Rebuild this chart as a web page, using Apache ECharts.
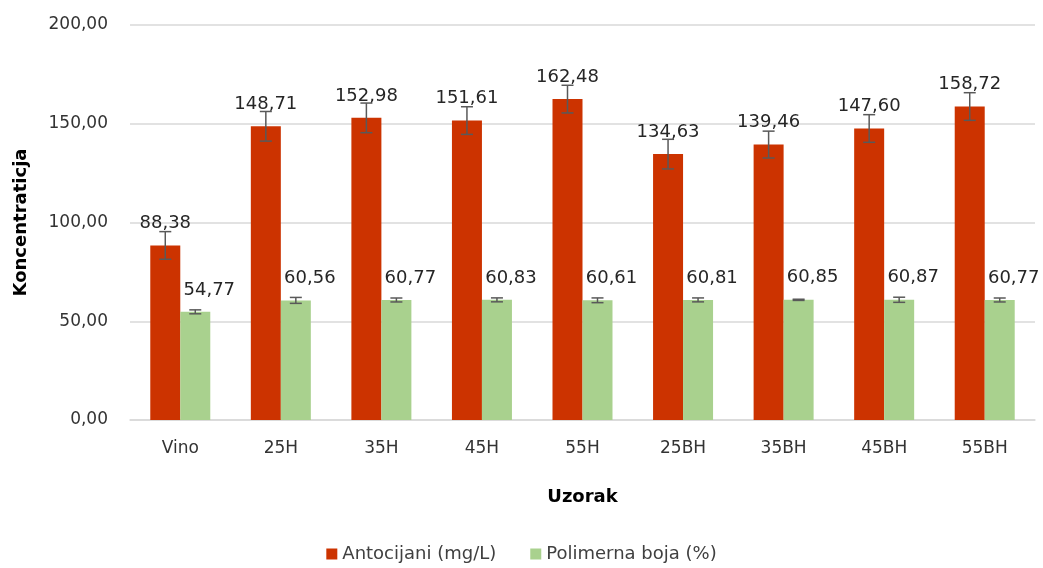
<!DOCTYPE html>
<html>
<head>
<meta charset="utf-8">
<script src="https://cdn.jsdelivr.net/npm/echarts@6/dist/echarts.min.js"></script>
<style>
  html, body { margin: 0; padding: 0; background: #fff; }
  #chart { width: 1043px; height: 568px; }
</style>
</head>
<body>
<div id="chart"></div>
<script>
// uzorci
const categories = ['Vino', '25H', '35H', '45H', '55H', '25BH', '35BH', '45BH', '55BH'];
// Antocijani (mg/L)
const antocijani = [88.38, 148.71, 152.98, 151.61, 162.48, 134.63, 139.46, 147.6, 158.72];
const antocijaniErr = [7, 7.5, 7.5, 7, 7, 7.5, 6.8, 7, 7];
// Polimerna boja (%)
const polimerna = [54.77, 60.56, 60.77, 60.83, 60.61, 60.81, 60.85, 60.87, 60.77];
const polimernaErr = [1, 1.5, 1, 1, 1.2, 1, 0.3, 1.3, 1];
const yTicks = [0, 50, 100, 150, 200];

const fmt = (v) => Number(v).toFixed(2).replace('.', ',');
const FONT = 'DejaVu Sans';
const BAR_W = 30;

const chart = echarts.init(document.getElementById('chart'));

// crtanje error barova (offset = pomak od sredine kategorije)
const errorSeries = (vals, errs, offset) => ({
  type: 'custom',
  silent: true,
  z: 10,
  data: vals.map((v, i) => [i, v - errs[i], v + errs[i]]),
  encode: { x: 0, y: [1, 2] },
  renderItem: (params, api) => {
    const lo = api.coord([api.value(0), api.value(1)]);
    const hi = api.coord([api.value(0), api.value(2)]);
    const x = lo[0] + offset;
    const cap = 6;
    const style = { stroke: '#595959', lineWidth: 1.5 };
    return {
      type: 'group',
      children: [
        { type: 'line', shape: { x1: x, y1: hi[1], x2: x, y2: lo[1] }, style },
        { type: 'line', shape: { x1: x - cap, y1: hi[1], x2: x + cap, y2: hi[1] }, style },
        { type: 'line', shape: { x1: x - cap, y1: lo[1], x2: x + cap, y2: lo[1] }, style },
      ],
    };
  },
});

const barLabel = {
  show: true,
  position: 'top',
  distance: 13,
  color: '#262626',
  fontFamily: FONT,
  fontSize: 18,
  formatter: (p) => fmt(p.value),
};

const option = {
  animation: false,
  textStyle: { fontFamily: FONT },
  grid: { left: 130, right: 8, top: 25, bottom: 148 },
  legend: {
    bottom: 0,
    left: 'center',
    itemWidth: 11,
    itemHeight: 11,
    itemGap: 34,
    icon: 'rect',
    textStyle: { fontFamily: FONT, fontSize: 18, color: '#404040' },
    data: ['Antocijani (mg/L)', 'Polimerna boja (%)'],
  },
  xAxis: {
    type: 'category',
    data: categories,
    name: 'Uzorak',
    nameLocation: 'middle',
    nameGap: 68,
    nameTextStyle: { fontFamily: FONT, fontSize: 18, fontWeight: 'bold', color: '#000' },
    axisLine: { lineStyle: { color: '#d9d9d9', width: 1.5 } },
    axisTick: { show: false },
    axisLabel: { margin: 20, fontFamily: FONT, fontSize: 17, color: '#333' },
  },
  yAxis: {
    type: 'value',
    min: yTicks[0],
    max: yTicks[yTicks.length - 1],
    interval: 50,
    name: 'Koncentraticja',
    nameLocation: 'middle',
    nameGap: 100,
    nameTextStyle: { fontFamily: FONT, fontSize: 18, fontWeight: 'bold', color: '#000' },
    axisLine: { show: false },
    axisTick: { show: false },
    splitLine: { lineStyle: { color: '#d9d9d9', width: 1.5 } },
    axisLabel: { margin: 22, fontFamily: FONT, fontSize: 17, color: '#333', formatter: (v) => fmt(v) },
  },
  series: [
    {
      name: 'Antocijani (mg/L)',
      type: 'bar',
      barWidth: BAR_W,
      barGap: '0%',
      itemStyle: { color: '#cc3300' },
      label: barLabel,
      data: antocijani,
    },
    {
      name: 'Polimerna boja (%)',
      type: 'bar',
      barWidth: BAR_W,
      barGap: '0%',
      itemStyle: { color: '#a9d18e' },
      // zelene oznake malo pomaknute udesno kao u originalu
      label: { ...barLabel, offset: [14, 0] },
      data: polimerna,
    },
    errorSeries(antocijani, antocijaniErr, -BAR_W / 2),
    errorSeries(polimerna, polimernaErr, BAR_W / 2),
  ],
};

chart.setOption(option);
</script>
</body>
</html>
